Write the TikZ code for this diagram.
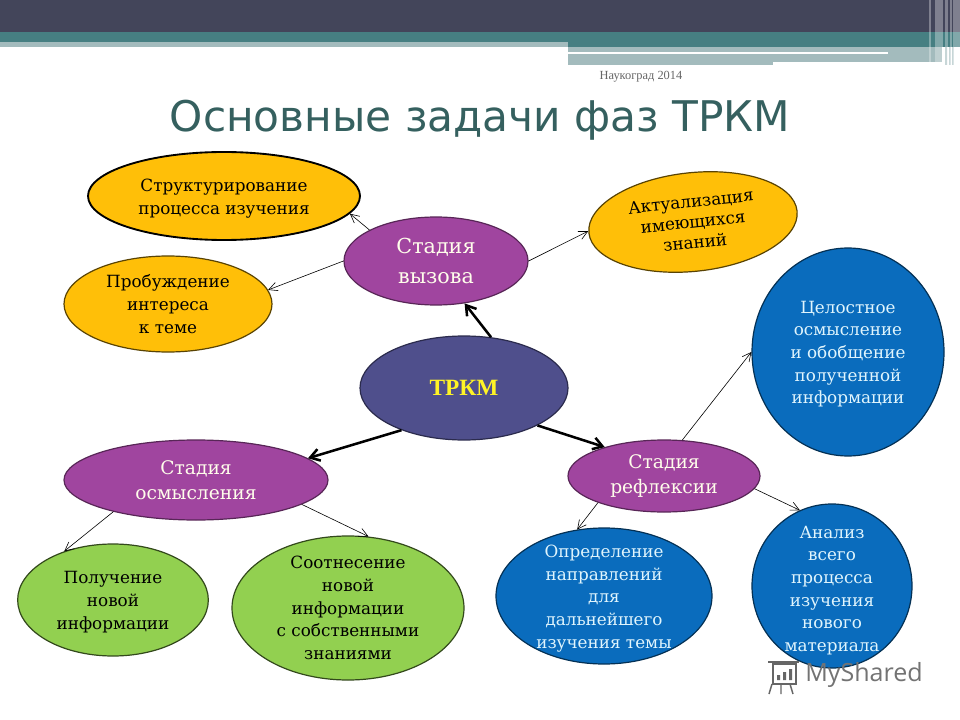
\documentclass[tikz,border=0pt]{standalone}
\usepackage{fontspec}
\setmainfont{DejaVu Serif}
\newfontfamily\titlefont{DejaVu Sans}
\newfontfamily\bodyfont{Liberation Serif}
\newfontfamily\markfont{Open Sans}
\usetikzlibrary{shapes.geometric,arrows.meta}
\definecolor{barDark}{HTML}{43455A}
\definecolor{barTeal}{HTML}{467F82}
\definecolor{barPale}{HTML}{A3BBBD}
\definecolor{titleCol}{HTML}{35605F}
\definecolor{amber}{HTML}{FFBF08}
\definecolor{violet}{HTML}{A0459F}
\definecolor{indigo}{HTML}{4F4F8C}
\definecolor{azure}{HTML}{0A6CBD}
\definecolor{leaf}{HTML}{92D050}
\newcommand\dn[1]{\rule{0pt}{#1pt}}
\tikzset{
  blob/.style={ellipse,inner sep=-30pt,line width=0.9pt,align=center,text=black,font=\fontsize{12.6}{17}\selectfont},
  yellowblob/.style={blob,fill=amber,draw=amber!35!black},
  purpleblob/.style={blob,fill=violet,draw=violet!55!black,text=white!92!yellow,font=\fontsize{14}{19}\selectfont},
  blueblob/.style={blob,fill=azure,draw=azure!45!black,text=white!88!cyan},
  greenblob/.style={blob,fill=leaf,draw=leaf!35!black},
  thinarrow/.style={draw=black,line width=0.45pt,-{Straight Barb[length=6.5pt,width=6.5pt]}},
  thickarrow/.style={draw=black,line width=1.9pt,-{Straight Barb[length=7pt,width=9pt,line width=1.9pt]}}
}
\begin{document}
\begin{tikzpicture}[x=0.75pt,y=-0.75pt]
\useasboundingbox (0,0) rectangle (960,720);
\fill[white] (0,0) rectangle (960,720);
% header
\fill[barPale] (0,42) rectangle (568,47);
\fill[barPale] (568,47) rectangle (773,65);
\fill[barPale] (773,47) rectangle (942,62);
\fill[barTeal] (0,32) rectangle (960,42);
\fill[barTeal] (568,42) rectangle (960,47);
\fill[barDark] (0,0) rectangle (960,32);
\fill[white] (568,52) rectangle (888,54.5);
\foreach \sx/\sw/\sc in {929/2/white,935/8/white,945/2.5/white,950/2/white,953/7/white}{
  \fill[\sc,opacity=.32] (\sx,0) rectangle ++(\sw,47);
  \fill[\sc,opacity=.3] (\sx,47) rectangle ++(\sw,15);
}
\fill[barPale,opacity=.6] (945,47) rectangle (947,65) (949,47) rectangle (950.5,65) (952,47) rectangle (953.5,65);
\node[font=\bodyfont\fontsize{9.3}{11}\selectfont,text=black!60,anchor=center] (date) at (641,77) {Наукоград 2014};
\node[font=\titlefont\fontsize{31.7}{36}\selectfont,text=titleCol] (title) at (480,120) {Основные задачи фаз ТРКМ};
% nodes
\node[yellowblob,draw=black,line width=1.4pt,minimum width=204pt,minimum height=66pt] (str) at (224,196) {\dn{13.7}Структурирование\\процесса изучения};
\node[yellowblob,rotate=6,minimum width=157pt,minimum height=74pt,font=\fontsize{12.6}{15.5}\selectfont] (akt) at (693,222) {Актуализация\\имеющихся\\знаний};
\node[yellowblob,minimum width=156pt,minimum height=72pt] (pro) at (168,304) {Пробуждение\\интереса\\к теме};
\node[purpleblob,font=\fontsize{15.5}{22.5}\selectfont,minimum width=138pt,minimum height=66pt] (vyz) at (436,261) {Стадия\\вызова};
\node[blob,fill=indigo,draw=indigo!55!black,text=yellow!85!white,font=\bodyfont\bfseries\fontsize{17.5}{20}\selectfont,minimum width=156pt,minimum height=78pt] (trkm) at (464,388) {ТРКМ};
\node[purpleblob,minimum width=198pt,minimum height=60pt] (osm) at (196,480) {Стадия\\осмысления};
\node[purpleblob,minimum width=144pt,minimum height=54pt] (ref) at (664,476) {Стадия\\рефлексии};
\node[blueblob,minimum width=144pt,minimum height=156pt] (cel) at (848,352) {\dn{12.2}Целостное\\осмысление\\и обобщение\\полученной\\информации};
\node[blueblob,minimum width=162pt,minimum height=102pt] (opr) at (604,596) {\dn{13}Определение\\направлений\\для\\дальнейшего\\изучения темы};
\node[blueblob,minimum width=120pt,minimum height=123pt] (ana) at (832,586) {\dn{16}Анализ\\всего\\процесса\\изучения\\нового\\материала};
\node[greenblob,minimum width=143pt,minimum height=84pt] (pol) at (113,600) {\dn{12.2}Получение\\новой\\информации};
\node[greenblob,minimum width=174pt,minimum height=108pt] (soo) at (348,608) {Соотнесение\\новой\\информации\\с собственными\\знаниями};
% connectors
\draw[thinarrow] (vyz.155) -- (str.-8.5);
\draw[thinarrow] (vyz.180) -- (pro.8);
\draw[thinarrow] (vyz.0) -- (akt.179);
\draw[thickarrow] (trkm.62.5) -- (vyz.-56);
\draw[thickarrow] (trkm.214.5) -- (osm.11.4);
\draw[thickarrow] (trkm.-27) -- (ref.154);
\draw[thinarrow] (ref.63) -- (cel.180);
\draw[thinarrow] (ref.202) -- (opr.112);
\draw[thinarrow] (ref.-8) -- (ana.113);
\draw[thinarrow] (osm.201.7) -- (pol.135);
\draw[thinarrow] (osm.-13) -- (soo.74);
% watermark
\begin{scope}[draw=black!60,line width=1.1pt]
\draw (773,664) rectangle (796,684);
\draw (768,662) -- (799,662);
\draw (772,684) -- (769,694) (790,684) -- (793,694) (781,684) -- (781,694);
\fill[black!60] (777,675) rectangle (780,680) (783,672) rectangle (786,680) (789,669) rectangle (792,680);
\end{scope}
\node[font=\markfont\fontsize{18.8}{22}\selectfont,text=black!55,anchor=west,inner sep=0pt] (mark) at (805,675) {MyShared};
\end{tikzpicture}
\end{document}
